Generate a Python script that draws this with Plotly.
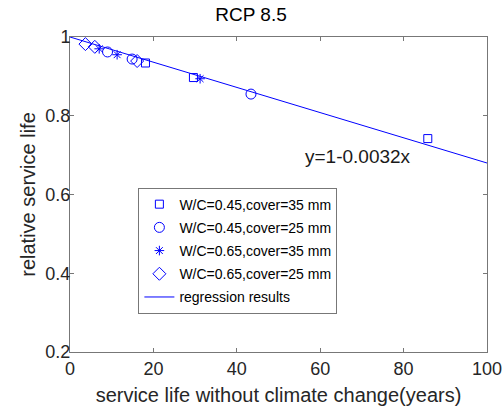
import plotly.graph_objects as go

# Data
sq_x = [18.1, 29.6, 85.8]
sq_y = [0.934, 0.897, 0.742]
ci_x = [9.0, 14.9, 43.4]
ci_y = [0.962, 0.944, 0.855]
st_x = [7.0, 11.3, 31.2]
st_y = [0.970, 0.955, 0.894]
di_x = [3.7, 5.95, 16.1]
di_y = [0.982, 0.975, 0.939]
reg_x = [0, 100]
slope = -0.0032
reg_y = [1 + slope * v for v in reg_x]

blue = "rgb(0,0,255)"
fig = go.Figure()
fig.add_trace(go.Scatter(x=sq_x, y=sq_y, mode="markers", name="W/C=0.45,cover=35 mm", legendgroup="a",
                         marker=dict(symbol="square-open", size=8, color=blue, line=dict(width=1))))
fig.add_trace(go.Scatter(x=ci_x, y=ci_y, mode="markers", name="W/C=0.45,cover=25 mm", legendgroup="b",
                         marker=dict(symbol="circle-open", size=10, color=blue, line=dict(width=1))))
fig.add_trace(go.Scatter(x=st_x, y=st_y, mode="markers", name="W/C=0.65,cover=35 mm", legendgroup="c",
                         marker=dict(symbol="asterisk-open", size=8, color=blue, line=dict(width=1))))
fig.add_trace(go.Scatter(x=di_x, y=di_y, mode="markers", name="W/C=0.65,cover=25 mm", legendgroup="d",
                         marker=dict(symbol="diamond-open", size=10, color=blue, line=dict(width=1))))
fig.add_trace(go.Scatter(x=reg_x, y=reg_y, mode="lines", name="regression results", legendgroup="e",
                         line=dict(color=blue, width=1)))

fig.add_annotation(x=55.9, y=0.696, text="y=1-0.0032x", showarrow=False,
                   xanchor="left", yanchor="middle", font=dict(size=19, color="#1a1a1a"))

axis_common = dict(showline=True, linecolor="#777777", linewidth=1, mirror="ticks",
                   ticks="inside", ticklen=4, tickcolor="#777777", showgrid=False, zeroline=False,
                   ticklabeloverflow="allow", automargin=False,
                   tickfont=dict(size=18, color="#262626"))
fig.update_xaxes(range=[0, 100], tickvals=[0, 20, 40, 60, 80, 100],
                 title=dict(text="service life without climate change(years)", font=dict(size=20, color="#262626"),
                            standoff=10), **axis_common)
fig.update_yaxes(range=[0.2, 1], tickvals=[0.2, 0.4, 0.6, 0.8, 1], ticktext=["0.2", "0.4", "0.6", "0.8", "1"],
                 ticklabelstandoff=-5,
                 title=dict(text="relative service life", font=dict(size=20, color="#262626"), standoff=4),
                 **axis_common)

fig.update_layout(
    width=502, height=412,
    margin=dict(l=70, r=15, t=37, b=60),
    plot_bgcolor="white", paper_bgcolor="white",
    font=dict(family="Liberation Sans, Arial, sans-serif", color="#262626"),
    title=dict(text="RCP 8.5", x=0.5, xanchor="center", y=0.965, yanchor="middle",
               font=dict(size=19, color="#000000")),
    legend=dict(x=0.164, y=0.522, xanchor="left", yanchor="top", bordercolor="#777777", borderwidth=1,
                bgcolor="white", font=dict(size=14, color="#000000"), tracegroupgap=2),
    showlegend=True,
)
fig.write_html("out.html")
